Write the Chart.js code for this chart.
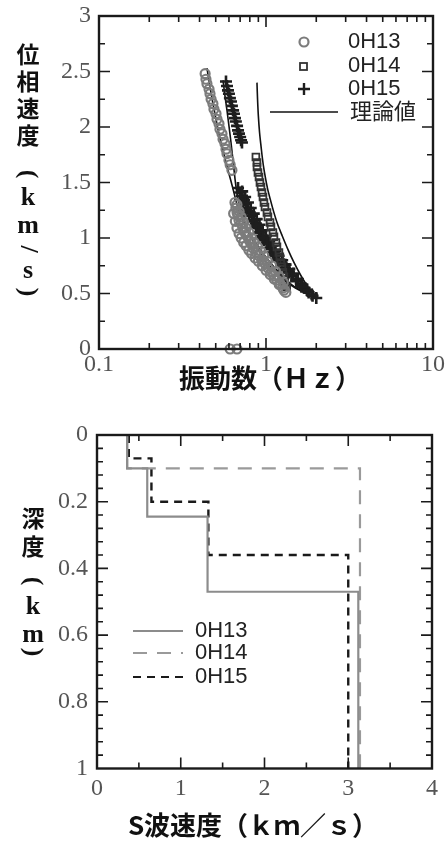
<!DOCTYPE html>
<html>
<head>
<meta charset="utf-8">
<script src="https://cdn.jsdelivr.net/npm/chart.js@4.4.0/dist/chart.umd.min.js"></script>
<style>
  body { margin: 0; background: #fff; }
  .box { position: absolute; left: 0; width: 448px; }
</style>
</head>
<body>
<div class="box" style="top:0;height:420px"><canvas id="phase"></canvas></div>
<div class="box" style="top:420px;height:421px"><canvas id="profile"></canvas></div>
<script>
// --- grafico alto: velocita di fase vs frequenza ---
const freqTicks = [0.1, 1, 10];
const velTicks = [0, 0.5, 1, 1.5, 2, 2.5, 3];

// 0H13 (cerchi) - ramo alto, ramo basso (3 file), punti a zero
const oh13Freq = [0.432,0.437,0.443,0.456,0.462,0.469,0.481,0.488,0.502,0.509,0.523,0.53,0.545,0.553,0.568,0.576,0.584,0.600,0.61,0.625,
  0.652,0.66,0.671,0.68,0.689,0.709,0.728,0.749,0.77,0.791,0.813,0.836,0.87,0.908,0.946,0.986,1.027,1.071,1.116,1.163,1.21,1.262,1.315,
  0.64,0.655,0.67,0.69,0.71,0.735,0.76,0.79,0.82,0.86,0.90,0.95,1.0,1.06,1.12,1.2,1.28,
  0.67,0.69,0.71,0.735,0.76,0.79,0.82,0.85,0.89,0.93,0.97,1.02,1.08,1.14,1.2,1.27,
  0.61,0.67];
const oh13Vel = [2.48,2.43,2.39,2.34,2.30,2.25,2.21,2.16,2.12,2.07,2.03,1.98,1.94,1.89,1.85,1.80,1.76,1.70,1.66,1.61,
  1.32,1.27,1.23,1.20,1.16,1.13,1.09,1.05,1.02,0.98,0.95,0.91,0.87,0.84,0.80,0.77,0.73,0.69,0.66,0.62,0.59,0.55,0.51,
  1.22,1.15,1.09,1.04,1.0,0.96,0.93,0.89,0.86,0.82,0.79,0.75,0.71,0.67,0.63,0.58,0.53,
  1.30,1.24,1.19,1.14,1.09,1.05,1.0,0.96,0.92,0.88,0.84,0.79,0.75,0.70,0.65,0.60,
  0,0];

// 0H14 (quadrati)
const oh14Freq = [0.87,0.883,0.883,0.895,0.908,0.92,0.933,0.946,0.959,0.972,0.986,1.013,1.027,1.057,1.071,1.10,1.116,1.147,1.163,1.195,1.21,1.228,1.245,1.262,1.28,1.297,1.33];
const oh14Vel = [1.73,1.68,1.64,1.59,1.55,1.50,1.46,1.41,1.37,1.32,1.28,1.23,1.19,1.14,1.10,1.05,1.01,0.96,0.92,0.87,0.83,0.78,0.74,0.69,0.65,0.60,0.56];

// 0H15 (croci)
const oh15Freq = [0.576,0.584,0.592,0.600,0.608,0.617,0.625,0.635,0.643,0.652,0.66,0.671,0.68,0.689,0.70,0.709,0.718,
  0.68,0.70,0.718,0.738,0.76,0.78,0.80,0.825,0.847,0.87,0.895,0.92,0.946,0.972,1.013,1.057,1.10,1.147,1.195,1.245,1.297,1.37,1.447,1.528,1.614,1.704,1.80,1.90,2.0,
  0.72,0.75,0.78,0.81,0.845,0.88,0.915,0.955,1.0,1.045,1.09,1.14,1.19,1.25,1.31,1.38,1.46,1.55,1.65,1.76,1.88,
  0.70,0.73,0.76,0.79,0.83,0.87,0.91,0.96,1.01,1.06,1.12,1.18,1.25,1.33,1.42,1.52,1.63];
const oh15Vel = [2.41,2.37,2.33,2.30,2.26,2.23,2.19,2.15,2.12,2.08,2.05,2.01,1.97,1.94,1.91,1.88,1.86,
  1.45,1.41,1.38,1.34,1.31,1.27,1.23,1.20,1.16,1.13,1.09,1.05,1.02,0.98,0.95,0.91,0.87,0.84,0.80,0.77,0.73,0.69,0.66,0.62,0.59,0.55,0.51,0.48,0.46,
  1.42,1.37,1.32,1.27,1.22,1.17,1.12,1.07,1.02,0.97,0.93,0.88,0.84,0.80,0.76,0.72,0.68,0.63,0.58,0.53,0.49,
  1.35,1.30,1.25,1.20,1.15,1.10,1.05,1.00,0.95,0.90,0.85,0.81,0.76,0.71,0.66,0.61,0.56];

// curve teoriche
const th1Freq = [0.443,0.46,0.48,0.505,0.53,0.56,0.59,0.62,0.65,0.68,0.72,0.77,0.83,0.9,1.0,1.12,1.28,1.5,1.8,2.05];
const th1Vel = [2.53,2.38,2.22,2.05,1.9,1.76,1.62,1.5,1.38,1.27,1.17,1.07,0.98,0.89,0.79,0.7,0.62,0.55,0.49,0.46];
const th2Freq = [0.553,0.568,0.584,0.60,0.615,0.63,0.645,0.66,0.68,0.71,0.75,0.8,0.86,0.93,1.02,1.13,1.27,1.45,1.7,2.03];
const th2Vel = [2.42,2.28,2.15,2.01,1.88,1.74,1.6,1.47,1.35,1.24,1.14,1.05,0.97,0.89,0.81,0.73,0.65,0.57,0.51,0.46];
const th3Freq = [0.883,0.89,0.9,0.915,0.93,0.946,0.965,0.99,1.02,1.06,1.11,1.17,1.25,1.35,1.47,1.62,1.8,2.03];
const th3Vel = [2.40,2.25,2.1,1.95,1.85,1.75,1.65,1.55,1.45,1.35,1.24,1.13,1.02,0.9,0.78,0.66,0.55,0.46];

// --- grafico basso: profilo Vs ---
const vsTicks = [0, 1, 2, 3, 4];
const depthTicks = [0, 0.2, 0.4, 0.6, 0.8, 1];
const oh13Vs = [0.36, 0.60, 1.32, 3.12];
const oh13Top = [0, 0.10, 0.245, 0.47];
const oh14Vs = [0.36, 3.14];
const oh14Top = [0, 0.10];
const oh15Vs = [0.38, 0.65, 1.33, 3.0];
const oh15Top = [0, 0.07, 0.20, 0.36];
const maxDepth = 1;

function pts(xs, ys) { return xs.map((v, i) => ({x: v, y: ys[i]})); }
function profile(vs, tops) {
  const out = [];
  vs.forEach((v, i) => {
    out.push({x: v, y: tops[i]});
    out.push({x: v, y: i + 1 < tops.length ? tops[i + 1] : maxDepth});
  });
  return out;
}
function range(a, b, step) {
  const r = [];
  for (let v = a; v <= b + 1e-9; v += step) r.push(Math.round(v * 1000) / 1000);
  return r;
}

const tickFont = {family: '"Liberation Serif", serif', size: 24};
const tickColor = '#555';

// cornice con tacche interne e titoli
const frame = {
  id: 'frame',
  afterDraw(chart, args, o) {
    const {ctx, chartArea: a, scales: {x, y}} = chart;
    ctx.save();
    ctx.strokeStyle = '#1a1a1a';
    ctx.lineWidth = 1.6;
    ctx.beginPath();
    const vt = (list, len) => list.forEach(v => {
      const p = x.getPixelForValue(v);
      ctx.moveTo(p, a.bottom); ctx.lineTo(p, a.bottom - len);
      ctx.moveTo(p, a.top); ctx.lineTo(p, a.top + len);
    });
    const ht = (list, len) => list.forEach(v => {
      const p = y.getPixelForValue(v);
      ctx.moveTo(a.left, p); ctx.lineTo(a.left + len, p);
      ctx.moveTo(a.right, p); ctx.lineTo(a.right - len, p);
    });
    vt(o.xMinor, 6); vt(o.xMajor, 11);
    ht(o.yMinor, 6); ht(o.yMajor, 11);
    ctx.stroke();
    ctx.lineWidth = 2.4;
    ctx.strokeRect(a.left, a.top, a.width, a.height);

    ctx.fillStyle = '#111';
    ctx.textAlign = 'center';
    ctx.textBaseline = 'middle';
    ctx.font = 'bold 26px "Noto Sans CJK JP"';
    ctx.fillText(o.xTitle.text, o.xTitle.x, o.xTitle.y);
    o.yTitle.chars.forEach(([ch, cy, kind]) => {
      ctx.save();
      ctx.translate(o.yTitle.x, cy);
      if (kind === 'r') ctx.rotate(Math.PI / 2);
      ctx.font = kind === 'c' ? 'bold 23px "Noto Sans CJK JP"' : 'bold 26px "Liberation Serif"';
      ctx.fillText(ch, 0, 0);
      ctx.restore();
    });
    if (o.legend) o.legend(ctx);
    ctx.restore();
  }
};

function axisOpts(extra) {
  return Object.assign({
    grid: {display: false, drawTicks: false},
    border: {display: false},
    ticks: {font: tickFont, color: tickColor, autoSkip: false, maxRotation: 0, callback: v => String(v)}
  }, extra);
}

// grafico 1
new Chart(document.getElementById('phase'), {
  type: 'scatter',
  data: {
    datasets: [
      {label: '0H13', data: pts(oh13Freq, oh13Vel), pointStyle: 'circle', pointRadius: 4.5, borderWidth: 2.2,
        borderColor: '#7c7c7c', backgroundColor: 'rgba(0,0,0,0)', clip: false},
      {label: '0H14', data: pts(oh14Freq, oh14Vel), pointStyle: 'rect', pointRadius: 4.8, borderWidth: 1.8,
        borderColor: '#333', backgroundColor: 'rgba(0,0,0,0)'},
      {label: '0H15', data: pts(oh15Freq, oh15Vel), pointStyle: 'cross', pointRadius: 6, borderWidth: 2.6,
        borderColor: '#1e1e1e'},
      {label: '理論値', data: pts(th1Freq, th1Vel), showLine: true, pointRadius: 0, borderColor: '#111', borderWidth: 1.6, tension: 0.3},
      {label: '理論値', data: pts(th2Freq, th2Vel), showLine: true, pointRadius: 0, borderColor: '#111', borderWidth: 1.6, tension: 0.3},
      {label: '理論値', data: pts(th3Freq, th3Vel), showLine: true, pointRadius: 0, borderColor: '#111', borderWidth: 1.6, tension: 0.3}
    ]
  },
  options: {
    responsive: true, maintainAspectRatio: false, animation: false,
    layout: {padding: {left: 0, right: 15, top: 16, bottom: 0}},
    plugins: {
      legend: {display: false}, tooltip: {enabled: false},
      frame: {
        xMajor: [1], xMinor: [0.2,0.3,0.4,0.5,0.6,0.7,0.8,0.9,2,3,4,5,6,7,8,9],
        yMajor: range(0.5, 2.5, 0.5), yMinor: range(0.25, 2.75, 0.5),
        xTitle: {text: '振動数（Ｈｚ）', x: 270, y: 378},
        yTitle: {x: 28, chars: [['位',54,'c'],['相',81,'c'],['速',108,'c'],['度',135,'c'],['(',174,'r'],['k',198,'l'],['m',226,'l'],['/',249,'r'],['s',271,'l'],[')',292,'r']]},
        legend(ctx) {
          ctx.textAlign = 'left';
          ctx.font = '22px "Liberation Sans"';
          ctx.fillStyle = '#222';
          ctx.lineWidth = 2.2; ctx.strokeStyle = '#7c7c7c';
          ctx.beginPath(); ctx.arc(304, 42, 4.5, 0, Math.PI * 2); ctx.stroke();
          ctx.strokeStyle = '#333'; ctx.lineWidth = 1.8;
          ctx.strokeRect(300, 63, 7, 7);
          ctx.strokeStyle = '#1e1e1e'; ctx.lineWidth = 2.4;
          ctx.beginPath(); ctx.moveTo(298, 89); ctx.lineTo(310, 89); ctx.moveTo(304, 83); ctx.lineTo(304, 95); ctx.stroke();
          ctx.strokeStyle = '#111'; ctx.lineWidth = 1.6;
          ctx.beginPath(); ctx.moveTo(270, 112); ctx.lineTo(338, 112); ctx.stroke();
          ctx.fillText('0H13', 348, 42);
          ctx.fillText('0H14', 348, 66);
          ctx.fillText('0H15', 348, 89);
          ctx.font = '22px "Noto Sans CJK JP"';
          ctx.fillText('理論値', 350, 111);
        }
      }
    },
    scales: {
      x: axisOpts({type: 'logarithmic', min: 0.1, max: 10,
        afterBuildTicks: s => { s.ticks = freqTicks.map(v => ({value: v})); },
        afterFit: s => { s.height = 71; s.paddingLeft = 0; s.paddingRight = 0; }}),
      y: axisOpts({min: 0, max: 3,
        afterBuildTicks: s => { s.ticks = velTicks.map(v => ({value: v})); },
        afterFit: s => { s.width = 99; s.paddingTop = 0; s.paddingBottom = 0; }})
    }
  },
  plugins: [frame]
});
Chart.getChart('phase').options.scales.x.ticks.padding = 1;
Chart.getChart('phase').options.scales.y.ticks.padding = 8;
Chart.getChart('phase').update();

// grafico 2
new Chart(document.getElementById('profile'), {
  type: 'scatter',
  data: {
    datasets: [
      {label: '0H13', data: profile(oh13Vs, oh13Top), showLine: true, pointRadius: 0, borderColor: '#8c8c8c', borderWidth: 2.2},
      {label: '0H14', data: profile(oh14Vs, oh14Top), showLine: true, pointRadius: 0, borderColor: '#9a9a9a', borderWidth: 2.2, borderDash: [14, 10]},
      {label: '0H15', data: profile(oh15Vs, oh15Top), showLine: true, pointRadius: 0, borderColor: '#1a1a1a', borderWidth: 2.4, borderDash: [8, 6]}
    ]
  },
  options: {
    responsive: true, maintainAspectRatio: false, animation: false,
    layout: {padding: {left: 0, right: 16, top: 15, bottom: 0}},
    plugins: {
      legend: {display: false}, tooltip: {enabled: false},
      frame: {
        xMajor: [1, 2, 3], xMinor: range(0.5, 3.5, 1),
        yMajor: [0.2, 0.4, 0.6, 0.8], yMinor: range(0.04, 0.96, 0.04).filter(v => Math.abs(v * 5 - Math.round(v * 5)) > 1e-6),
        xTitle: {text: 'S波速度（ｋｍ／ｓ）', x: 253, y: 405},
        yTitle: {x: 33, chars: [['深',98,'c'],['度',126,'c'],['(',161,'r'],['k',187,'l'],['m',215,'l'],[')',232,'r']]},
        legend(ctx) {
          ctx.textAlign = 'left';
          ctx.font = '22px "Liberation Sans"';
          ctx.fillStyle = '#222';
          const rows = [['0H13', 211, '#8c8c8c', []], ['0H14', 233, '#9a9a9a', [14, 10]], ['0H15', 257, '#1a1a1a', [8, 6]]];
          rows.forEach(([t, yy, c, d]) => {
            ctx.strokeStyle = c; ctx.lineWidth = 2.2; ctx.setLineDash(d);
            ctx.beginPath(); ctx.moveTo(133, yy); ctx.lineTo(183, yy); ctx.stroke();
            ctx.setLineDash([]);
            ctx.fillText(t, 195, yy);
          });
        }
      }
    },
    scales: {
      x: axisOpts({min: 0, max: 4,
        afterBuildTicks: s => { s.ticks = vsTicks.map(v => ({value: v})); },
        afterFit: s => { s.height = 72.5; s.paddingLeft = 0; s.paddingRight = 0; }}),
      y: axisOpts({min: 0, max: 1, reverse: true,
        afterBuildTicks: s => { s.ticks = depthTicks.map(v => ({value: v})); },
        afterFit: s => { s.width = 97; s.paddingTop = 0; s.paddingBottom = 0; }})
    }
  },
  plugins: [frame]
});
Chart.getChart('profile').options.scales.x.ticks.padding = 6;
Chart.getChart('profile').options.scales.y.ticks.padding = 9;
Chart.getChart('profile').update();
</script>
</body>
</html>
